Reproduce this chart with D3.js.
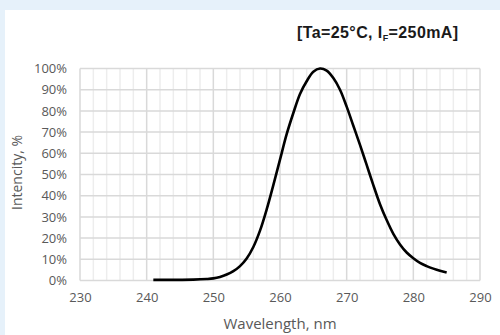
<!DOCTYPE html>
<html>
<head>
<meta charset="utf-8">
<script src="https://cdn.jsdelivr.net/npm/d3@7"></script>
<style>
  body { margin: 0; background: #e6f1fa; }
  svg { display: block; }
</style>
</head>
<body>
<svg id="chart" width="500" height="335"></svg>
<script>
// spectrum
var wavelength = [241, 244, 247, 249, 250, 251, 252, 253, 254, 255, 256, 257, 258, 259, 260,
  261, 262, 263, 264, 265, 266, 267, 268, 269, 270, 271, 272, 273, 274, 275, 276, 277, 278,
  279, 280, 281, 282, 283, 284, 285];
var intensity = [0.3, 0.3, 0.4, 0.7, 1, 1.7, 2.8, 4.4, 6.8, 10.4, 15.8, 23.5, 33.5, 45, 57,
  69, 79, 88, 94, 98.5, 100, 99, 95.5, 90, 82, 73, 64, 54.5, 45, 36, 28.5, 22, 17,
  13.2, 10.5, 8.3, 6.8, 5.6, 4.6, 3.8];
var xTicks = [230, 240, 250, 260, 270, 280, 290];
var yTicks = [0, 10, 20, 30, 40, 50, 60, 70, 80, 90, 100];

var svg = d3.select("svg#chart");

svg.append("rect").attr("x", 5).attr("y", 10).attr("width", 495).attr("height", 325)
  .style("fill", "white");

var chart_vars = { left: 80, top: 68.5, width: 400, height: 212 };

var xScale = d3.scaleLinear().domain([230, 290]).range([0, chart_vars.width]);
var yScale = d3.scaleLinear().domain([0, 100]).range([chart_vars.height, 0]);

var g = svg.append("g")
  .attr("transform", "translate(" + chart_vars.left + "," + chart_vars.top + ")");

// minor vertical grid every 2 nm
g.append("g").selectAll("line")
  .data(d3.range(232, 290, 2).filter(function(d) { return d % 10 != 0; }))
  .enter().append("line")
  .attr("x1", function(d) { return xScale(d); }).attr("x2", function(d) { return xScale(d); })
  .attr("y1", 0).attr("y2", chart_vars.height)
  .style("stroke", "#ededed").style("stroke-width", 1.5);

// major grid
g.append("g").selectAll("line")
  .data(xTicks)
  .enter().append("line")
  .attr("x1", function(d) { return xScale(d); }).attr("x2", function(d) { return xScale(d); })
  .attr("y1", 0).attr("y2", chart_vars.height)
  .style("stroke", "#d9d9d9").style("stroke-width", 1.5);

g.append("g").selectAll("line")
  .data(yTicks)
  .enter().append("line")
  .attr("x1", 0).attr("x2", chart_vars.width)
  .attr("y1", function(d) { return yScale(d); }).attr("y2", function(d) { return yScale(d); })
  .style("stroke", "#d9d9d9").style("stroke-width", 1.5);

// axes (labels only)
var axis_bottom = d3.axisBottom(xScale).tickValues(xTicks).tickSize(0).tickPadding(12);
var axis_left = d3.axisLeft(yScale).tickValues(yTicks).tickSize(0).tickPadding(13)
  .tickFormat(function(d) { return d + "%"; });

var gx = g.append("g").attr("transform", "translate(0," + chart_vars.height + ")").call(axis_bottom);
var gy = g.append("g").call(axis_left);
[gx, gy].forEach(function(a) {
  a.select("path.domain").remove();
  a.selectAll("text").style("font-family", "Open Sans").style("font-size", "13px").style("fill", "#595959");
});

// curve
var data = wavelength.map(function(w, i) { return { x_value: w, y_value: intensity[i] }; });
var line = d3.line()
  .x(function(d) { return xScale(d.x_value); })
  .y(function(d) { return yScale(d.y_value); })
  .curve(d3.curveCatmullRom.alpha(0.5));

g.append("path").datum(data)
  .attr("d", line)
  .style("fill", "none").style("stroke", "black").style("stroke-width", 2.6);

// axis titles
svg.append("text").attr("x", chart_vars.left + chart_vars.width / 2 + 0).attr("y", 329)
  .attr("text-anchor", "middle")
  .style("font-family", "Open Sans").style("font-size", "15px").style("fill", "#595959")
  .text("Wavelength, nm");

svg.append("text")
  .attr("transform", "translate(22," + (chart_vars.top + chart_vars.height / 2 - 2) + ") rotate(-90)")
  .attr("text-anchor", "middle")
  .style("font-family", "Open Sans").style("font-size", "14px").style("fill", "#595959")
  .text("Intencity, %");

// conditions
var t = svg.append("text").attr("x", 297).attr("y", 38)
  .style("font-family", "Liberation Sans").style("font-weight", "bold").style("font-size", "16px")
  .style("letter-spacing", "0.4px").style("fill", "#1a1a1a");
t.append("tspan").text("[Ta=25°C, I");
t.append("tspan").attr("dy", 3).style("font-size", "9px").text("F");
t.append("tspan").attr("dy", -3).text("=250mA]");
</script>
</body>
</html>
